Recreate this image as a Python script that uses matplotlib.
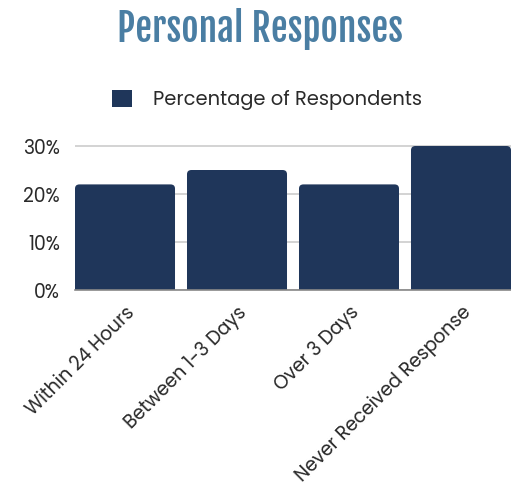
import matplotlib.pyplot as plt
from matplotlib.patches import FancyBboxPatch, Patch

categories = ['Within 24 Hours', 'Between 1-3 Days', 'Over 3 Days', 'Never Received Response']
values = [22, 25, 22, 30]
yticks = [0, 10, 20, 30]
series_name = 'Percentage of Respondents'

bar_color = '#1f365a'
title_color = '#4a7ea3'
text_color = '#2a2a2a'
body_font = ['Poppins', 'DejaVu Sans']
title_font = ['Fjalla One', 'DejaVu Sans']

W, H = 511, 495
fig = plt.figure(figsize=(W / 100, H / 100), dpi=100)
ax = fig.add_axes([75 / W, 1 - 290 / H, 1 - 75 / W, (290 - 141.2) / H])

width = 0.893
x = list(range(len(categories)))
bars = ax.bar(x, values, width=width, color=bar_color, alpha=0)
# rounded top corners; bottom extends below zero and gets clipped
for b in bars:
    p = FancyBboxPatch((b.get_x(), -3), b.get_width(), b.get_height() + 3,
                       boxstyle='round,pad=0,rounding_size=0.04',
                       mutation_aspect=22, facecolor=bar_color,
                       edgecolor='none', zorder=3)
    ax.add_patch(p)

ax.set_xlim(-width / 2, len(categories) - 1 + width / 2)
ax.set_ylim(0, 31)
ax.set_yticks(yticks)
ax.set_yticklabels([f'{v}%' for v in yticks], fontfamily=body_font,
                   fontsize=13.5, color=text_color)
ax.yaxis.grid(True, color='#cccccc', linewidth=1.2, zorder=0)
ax.set_axisbelow(True)
ax.tick_params(axis='y', length=0, pad=11)
ax.tick_params(axis='x', length=0, pad=9)
ax.set_xticks(x)
ax.set_xticklabels(categories, rotation=45, ha='right', va='top',
                   rotation_mode='anchor', fontfamily=body_font,
                   fontsize=13.5, color=text_color)
for s in ['top', 'right', 'left']:
    ax.spines[s].set_visible(False)
ax.spines['bottom'].set_color('#888888')
ax.spines['bottom'].set_linewidth(1.2)
ax.spines['bottom'].set_zorder(4)

fig.text(0.508, 1 - 29 / H, 'Personal Responses', ha='center', va='center',
         fontfamily=title_font, fontsize=27, color=title_color)

fig.legend(handles=[Patch(facecolor=bar_color, label=series_name)],
           loc='center', bbox_to_anchor=(0.5225, 1 - 100 / H), frameon=False,
           handlelength=1.0, handleheight=1.0, handletextpad=1.1,
           prop={'family': body_font, 'size': 14}, labelcolor=text_color)

fig.savefig('out.png', dpi=100)
